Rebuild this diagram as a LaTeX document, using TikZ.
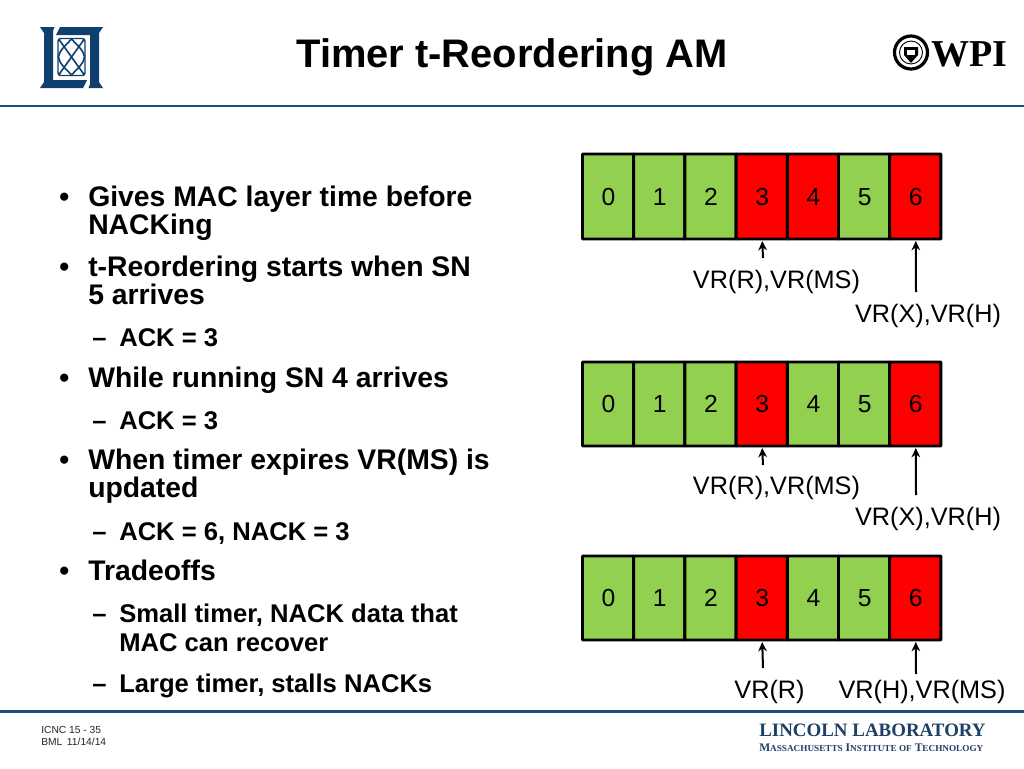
\documentclass[tikz,border=0pt]{standalone}
\usepackage{fontspec}
\setmainfont{Liberation Sans}
\newfontfamily\serifx{Liberation Serif}
\definecolor{rulec}{HTML}{1C4F7C}
\definecolor{logoc}{HTML}{0F3F6F}
\definecolor{labc}{HTML}{1F3F66}
\definecolor{okc}{HTML}{92D050}
\definecolor{badc}{HTML}{FF0000}
\usetikzlibrary{arrows.meta}
\tikzset{
  x=0.75pt,y=-0.75pt,
  headrule/.style={draw=rulec,line width=2.2pt},
  cellok/.style={draw=black,line width=2.2pt,fill=okc,rounded corners=0.5pt},
  cellbad/.style={draw=black,line width=2.2pt,fill=badc,rounded corners=0.5pt},
  num/.style={font=\fontsize{18.5}{20}\selectfont,inner sep=0pt,anchor=base},
  vr/.style={font=\fontsize{18.95}{20}\selectfont,inner sep=0pt,anchor=base},
  big/.style={font=\bfseries\fontsize{21.25}{24}\selectfont,inner sep=0pt,anchor=base west},
  small/.style={font=\bfseries\fontsize{19.2}{22}\selectfont,inner sep=0pt,anchor=base west},
  ptr/.style={draw=black,line width=1.5pt,-{Stealth[length=7pt,width=6.5pt]}},
  foot/.style={font=\fontsize{7.7}{9}\selectfont,inner sep=0pt,anchor=base west,text=black!85},
}
\newcommand{\cellrow}[9]{%
  \foreach \i/\st in {0/#2,1/#3,2/#4,3/#5,4/#6,5/#7,6/#8}{%
    \pgfmathsetmacro{\xa}{582.5+\i*51.2}
    \pgfmathsetmacro{\xb}{582.5+(\i+1)*51.2}
    \pgfmathsetmacro{\ym}{(#1+#9)/2+8.5}
    \draw[\st] (\xa,#1) rectangle (\xb,#9);
    \node[num] (c#1n\i) at ({(\xa+\xb)/2+0.5},\ym) {\i};
  }%
}
\begin{document}
\begin{tikzpicture}
\useasboundingbox (0,0) rectangle (1024,768);
\fill[white] (0,0) rectangle (1024,768);
% rules
\draw[headrule] (0,106) -- (1024,106);
\draw[headrule] (0,711.5) -- (1024,711.5);
% title
\node[font=\bfseries\fontsize{29.9}{32}\selectfont,inner sep=0pt,anchor=base] (title) at (512,67.5) {Timer t-Reordering AM};
% MIT LL logo
\fill[logoc] (40,27)--(54.5,27)--(53,31)--(53,80)--(87,80)--(83,88)--(40,88)--(44,82)--(44,33)--cycle;
\fill[logoc] (103,88)--(88.5,88)--(90,84)--(90,35)--(56,35)--(60,27)--(103,27)--(99,33)--(99,82)--cycle;
\draw[logoc,line width=1.1pt,rounded corners=2pt] (58,38.5) rectangle (85,75.5);
\draw[logoc,line width=1.2pt] (59,39.5)--(84,74.5) (84,39.5)--(59,74.5);
\draw[logoc,line width=1.2pt] (71.5,39) .. controls (78,46) and (84,51) .. (84.5,57) .. controls (84,63) and (78,68) .. (71.5,75) .. controls (65,68) and (59,63) .. (58.5,57) .. controls (59,51) and (65,46) .. (71.5,39) -- cycle;
% WPI logo
\draw[black,line width=2.4pt] (911,52.5) circle[radius=16.5];
\draw[black,line width=0.7pt] (911,52.5) circle[radius=11.5];
\fill[black] (904,47)--(918,47)--(918,55)--(911,63)--(904,55)--cycle;
\fill[white] (907,50) rectangle (915,55);
\node[font=\serifx\bfseries\fontsize{28.5}{30}\selectfont,inner sep=0pt,anchor=base west] (wpi) at (931,66) {WPI};
% bullets
\foreach \y in {206,276,387,469,580}{
  \node[big] at (59,\y) {•};
}
\node[big] (b1) at (88,206) {Gives MAC layer time before};
\node[big] (b1b) at (88,234) {NACKing};
\node[big] (b2) at (88,276) {t-Reordering starts when SN};
\node[big] (b2b) at (88,304) {5 arrives};
\node[big] (b3) at (88,387) {While running SN 4 arrives};
\node[big] (b4) at (88,469) {When timer expires VR(MS) is};
\node[big] (b4b) at (88,497) {updated};
\node[big] (b5) at (88,580) {Tradeoffs};
\foreach \y in {346,429,540,622,692}{
  \node[small] at (92,\y) {–};
}
\node[small] (s1) at (119,346) {ACK = 3};
\node[small] (s2) at (119,429) {ACK = 3};
\node[small] (s3) at (119,540) {ACK = 6, NACK = 3};
\node[small] (s4) at (119,622) {Small timer, NACK data that};
\node[small] (s4b) at (119,651) {MAC can recover};
\node[small] (s5) at (119,692) {Large timer, stalls NACKs};
% cells
\cellrow{154}{cellok}{cellok}{cellok}{cellbad}{cellbad}{cellok}{cellbad}{239}
\cellrow{362}{cellok}{cellok}{cellok}{cellbad}{cellok}{cellok}{cellbad}{446}
\cellrow{556}{cellok}{cellok}{cellok}{cellbad}{cellok}{cellok}{cellbad}{640}
% pointers
\coordinate (p1a) at (763,258); \coordinate (p1b) at (916,292);
\draw[ptr] (p1a) -- (c154n3.base |- 0,241);
\draw[ptr] (p1b) -- (c154n6.base |- 0,241);
\node[vr] (l1a) at (776.5,288.5) {VR(R),VR(MS)};
\node[vr] (l1b) at (928,322.5) {VR(X),VR(H)};
\coordinate (p2a) at (763,465); \coordinate (p2b) at (916,495);
\draw[ptr] (p2a) -- (c362n3.base |- 0,448);
\draw[ptr] (p2b) -- (c362n6.base |- 0,448);
\node[vr] (l2a) at (776.5,494) {VR(R),VR(MS)};
\node[vr] (l2b) at (928,525) {VR(X),VR(H)};
\coordinate (p3a) at (763,668); \coordinate (p3b) at (916,674);
\draw[ptr] (p3a) -- (c556n3.base |- 0,642);
\draw[ptr] (p3b) -- (c556n6.base |- 0,642);
\node[vr] (l3a) at (769.5,698) {VR(R)};
\node[vr] (l3b) at (922,698) {VR(H),VR(MS)};
% footer
\node[foot] (f1) at (41,733) {ICNC 15 - 35};
\node[foot] (f2) at (41,745) {BML\hspace{0.45em}11/14/14};
\node[font=\serifx\bfseries\fontsize{14.2}{15}\selectfont,text=labc,inner sep=0pt,anchor=base west] (ll1) at (759,736) {LINCOLN LABORATORY};
\node[font=\serifx\bfseries\fontsize{8.7}{10}\selectfont,text=labc,inner sep=0pt,anchor=base west] (ll2) at (759,751) {M{\fontsize{6.9}{8}\selectfont ASSACHUSETTS} I{\fontsize{6.9}{8}\selectfont NSTITUTE OF} T{\fontsize{6.9}{8}\selectfont ECHNOLOGY}};
\end{tikzpicture}
\end{document}
